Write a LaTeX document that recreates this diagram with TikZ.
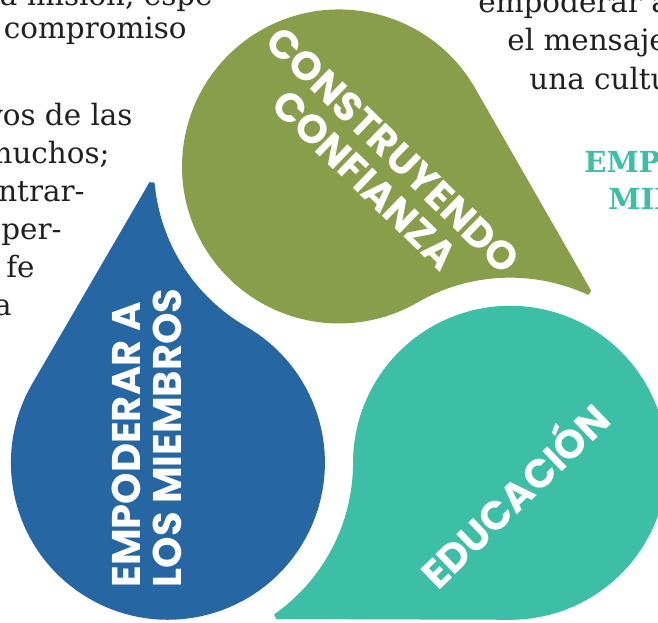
\documentclass[tikz,border=0pt]{standalone}
\usepackage{fontspec}
\newfontfamily\bodyfont{DejaVu Serif}
\newfontfamily\dropfont{Poppins}

\definecolor{dropblue}{HTML}{2566A3}
\definecolor{dropgreen}{HTML}{899E4A}
\definecolor{dropteal}{HTML}{3CBFA6}
\definecolor{inkgray}{HTML}{231F20}

\tikzset{
  bodytext/.style={font=\bodyfont\fontsize{14.7}{19}\selectfont, text=inkgray, inner sep=0pt, anchor=base east},
  bodyleft/.style={bodytext, anchor=base west},
  headtext/.style={font=\bodyfont\bfseries\fontsize{14.5}{19}\selectfont, text=dropteal, inner sep=0pt, anchor=base west},
  droplabel/.style={font=\dropfont\bfseries\fontsize{20}{20.5}\selectfont, text=white, inner sep=0pt}
}

\begin{document}
\begin{tikzpicture}[x=0.5pt,y=0.5pt]
  \useasboundingbox (-339,-258) rectangle (319,364);
  \clip (-339,-258) rectangle (319,364);
  \fill[white] (-339,-258) rectangle (319,364);

  % drops, turned by 120 degrees about the middle
  \foreach \ang/\col in {0/dropblue, -120/dropgreen, -240/dropteal}{
    \fill[\col, rotate=\ang] (-306.9,-20.0)
      arc[start angle=149.9, end angle=420, radius=157]
      arc[start angle=240, end angle=185, radius=185.1]
      -- (-189.5,181.8) -- cycle;
  }

  \node[droplabel, rotate=90, align=left] (members) at (-192,-74) {EMPODERAR A\\LOS MIEMBROS};
  \node[droplabel, rotate=-44, align=center] (trust) at (40,199) {CONSTRUYENDO\\CONFIANZA};
  \node[droplabel, rotate=44] (education) at (173,-129) {EDUCACIÓN};

  % text round the drops
  \node[bodytext] (left1) at (-126,358) {a misión, espe};
  \node[bodytext] (left2) at (-152,326) {compromiso};
  \node[bodytext] (left3) at (-206,239) {vos de las};
  \node[bodytext] (left4) at (-229,201) {muchos;};
  \node[bodytext] (left5) at (-254,163) {ntrar-};
  \node[bodytext] (left6) at (-277,125) {per-};
  \node[bodytext] (left7) at (-304,87) {fe};
  \node[bodytext] (left8) at (-327,49) {a};

  \node[bodyleft] (right1) at (139,351) {empoderar a};
  \node[bodyleft] (right2) at (168,314) {el mensaje};
  \node[bodyleft] (right3) at (190,275) {una cultu};

  \node[headtext] (head1) at (245,192) {EMPO};
  \node[headtext] (head2) at (269,155) {MIE};
\end{tikzpicture}
\end{document}
